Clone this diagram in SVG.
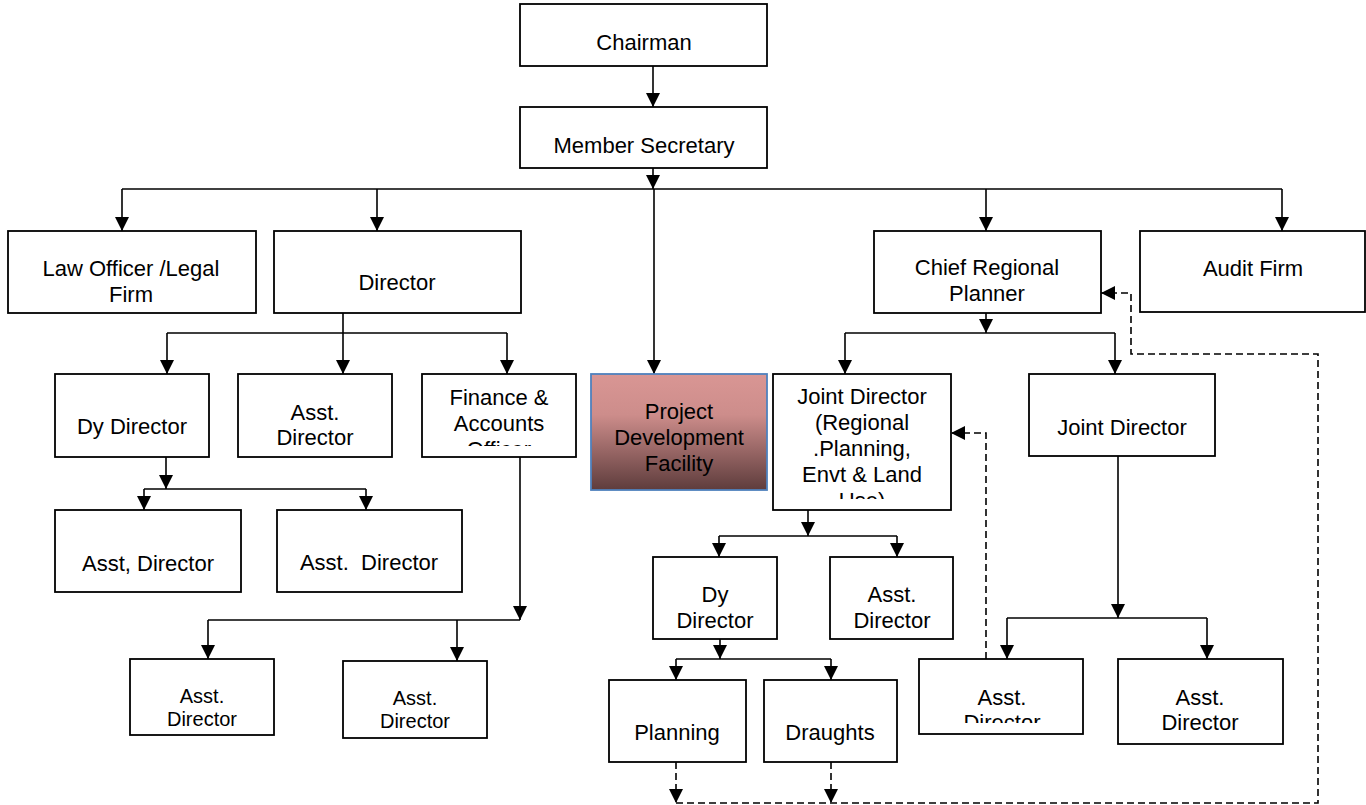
<svg xmlns="http://www.w3.org/2000/svg" width="1366" height="805" viewBox="0 0 1366 805">
<style>
.box{fill:#fff;stroke:#000;stroke-width:1.8}
.ln{fill:none;stroke:#000;stroke-width:1.6}
.dash{fill:none;stroke:#000;stroke-width:1.6;stroke-dasharray:7,4}
text{font-family:"Liberation Sans",Arial,sans-serif;font-size:22px;fill:#000;text-anchor:middle}
.sm{font-size:20px}
</style>
<defs>
<marker id="ah" markerUnits="userSpaceOnUse" markerWidth="14" markerHeight="14" refX="14" refY="7" orient="auto">
<path d="M0,0 L14,7 L0,14 z" fill="#000"/>
</marker>
<linearGradient id="pdfg" x1="0" y1="0" x2="0" y2="1">
<stop offset="0" stop-color="#d99694"/>
<stop offset="0.35" stop-color="#cd8d8b"/>
<stop offset="1" stop-color="#5e3c3c"/>
</linearGradient>
<clipPath id="cFin"><rect x="422" y="374" width="154" height="72"/></clipPath>
<clipPath id="cJd1"><rect x="773" y="374" width="178" height="125"/></clipPath>
<clipPath id="cR1"><rect x="919" y="659" width="164" height="64"/></clipPath>
</defs>

<g id="connectors">
<path class="ln" d="M653,66 V107" marker-end="url(#ah)"/>
<path class="ln" d="M653,168 V189" marker-end="url(#ah)"/>
<path class="ln" d="M122,189 H1282"/>
<path class="ln" d="M122,189 V231" marker-end="url(#ah)"/>
<path class="ln" d="M377,189 V231" marker-end="url(#ah)"/>
<path class="ln" d="M654,189 V374" marker-end="url(#ah)"/>
<path class="ln" d="M986,189 V231" marker-end="url(#ah)"/>
<path class="ln" d="M1282,189 V231" marker-end="url(#ah)"/>

<path class="ln" d="M343,313 V333 M167,333 H507"/>
<path class="ln" d="M167,333 V374" marker-end="url(#ah)"/>
<path class="ln" d="M343,333 V374" marker-end="url(#ah)"/>
<path class="ln" d="M507,333 V374" marker-end="url(#ah)"/>

<path class="ln" d="M166,457 V489" marker-end="url(#ah)"/>
<path class="ln" d="M144,489 H366"/>
<path class="ln" d="M144,489 V510" marker-end="url(#ah)"/>
<path class="ln" d="M366,489 V510" marker-end="url(#ah)"/>

<path class="ln" d="M520,457 V620" marker-end="url(#ah)"/>
<path class="ln" d="M208,620 H520"/>
<path class="ln" d="M208,620 V659" marker-end="url(#ah)"/>
<path class="ln" d="M457,620 V661" marker-end="url(#ah)"/>

<path class="ln" d="M986,313 V333" marker-end="url(#ah)"/>
<path class="ln" d="M845,333 H1115"/>
<path class="ln" d="M845,333 V374" marker-end="url(#ah)"/>
<path class="ln" d="M1115,333 V374" marker-end="url(#ah)"/>

<path class="ln" d="M808,510 V536" marker-end="url(#ah)"/>
<path class="ln" d="M719,536 H897"/>
<path class="ln" d="M719,536 V557" marker-end="url(#ah)"/>
<path class="ln" d="M897,536 V557" marker-end="url(#ah)"/>

<path class="ln" d="M720,639 V659" marker-end="url(#ah)"/>
<path class="ln" d="M676,659 H831"/>
<path class="ln" d="M676,659 V680" marker-end="url(#ah)"/>
<path class="ln" d="M831,659 V680" marker-end="url(#ah)"/>

<path class="ln" d="M1118,456 V618" marker-end="url(#ah)"/>
<path class="ln" d="M1007,618 H1207"/>
<path class="ln" d="M1007,618 V659" marker-end="url(#ah)"/>
<path class="ln" d="M1207,618 V659" marker-end="url(#ah)"/>

<path class="dash" d="M676,762 V803" marker-end="url(#ah)"/>
<path class="dash" d="M831,762 V803" marker-end="url(#ah)"/>
<path class="dash" d="M676,803 H1318 V354 H1131 V293 H1101" marker-end="url(#ah)"/>
<path class="dash" d="M986,659 V433 H951" marker-end="url(#ah)"/>
</g>

<g id="chairman"><rect class="box" x="520" y="4" width="247" height="62"/><text x="644" y="50">Chairman</text></g>
<g id="member-secretary"><rect class="box" x="520" y="107" width="247" height="61"/><text x="644" y="153">Member Secretary</text></g>
<g id="law-officer"><rect class="box" x="8" y="231" width="248" height="82"/><text x="131" y="276">Law Officer /Legal</text><text x="131" y="302">Firm</text></g>
<g id="director"><rect class="box" x="274" y="231" width="247" height="82"/><text x="397" y="290">Director</text></g>
<g id="chief-regional-planner"><rect class="box" x="874" y="231" width="227" height="82"/><text x="987" y="275">Chief Regional</text><text x="987" y="301">Planner</text></g>
<g id="audit-firm"><rect class="box" x="1140" y="231" width="225" height="81"/><text x="1253" y="276">Audit Firm</text></g>

<g id="dy-director"><rect class="box" x="55" y="374" width="154" height="83"/><text x="132" y="434">Dy Director</text></g>
<g id="asst-director-1"><rect class="box" x="238" y="374" width="154" height="83"/><text x="315" y="420">Asst.</text><text x="315" y="445">Director</text></g>
<g id="finance-accounts-officer"><rect class="box" x="422" y="374" width="154" height="83"/><g clip-path="url(#cFin)"><text x="499" y="405">Finance &amp;</text><text x="499" y="431">Accounts</text><text x="499" y="457">Officer</text></g></g>
<g id="project-development-facility"><rect x="591" y="374" width="176" height="116" fill="url(#pdfg)" stroke="#4f81bd" stroke-width="1.8"/><text x="679" y="419">Project</text><text x="679" y="445">Development</text><text x="679" y="471">Facility</text></g>
<g id="joint-director-1"><rect class="box" x="773" y="374" width="178" height="136"/><g clip-path="url(#cJd1)"><text x="862" y="404">Joint Director</text><text x="862" y="430">(Regional</text><text x="862" y="456">.Planning,</text><text x="862" y="482">Envt &amp; Land</text><text x="862" y="508">Use)</text></g></g>
<g id="joint-director-2"><rect class="box" x="1029" y="374" width="186" height="82"/><text x="1122" y="435">Joint Director</text></g>

<g id="asst-director-2"><rect class="box" x="55" y="510" width="186" height="82"/><text x="148" y="571">Asst, Director</text></g>
<g id="asst-director-3"><rect class="box" x="277" y="510" width="185" height="82"/><text x="369" y="570" xml:space="preserve">Asst.  Director</text></g>
<g id="asst-director-4"><rect class="box" x="130" y="659" width="144" height="76"/><text class="sm" x="202" y="703">Asst.</text><text class="sm" x="202" y="726">Director</text></g>
<g id="asst-director-5"><rect class="box" x="343" y="661" width="144" height="77"/><text class="sm" x="415" y="705">Asst.</text><text class="sm" x="415" y="728">Director</text></g>

<g id="dy-director-2"><rect class="box" x="653" y="557" width="124" height="82"/><text x="715" y="602">Dy</text><text x="715" y="628">Director</text></g>
<g id="asst-director-6"><rect class="box" x="830" y="557" width="123" height="82"/><text x="892" y="602">Asst.</text><text x="892" y="628">Director</text></g>
<g id="planning"><rect class="box" x="609" y="680" width="137" height="82"/><text x="677" y="740">Planning</text></g>
<g id="draughts"><rect class="box" x="764" y="680" width="133" height="82"/><text x="830" y="740">Draughts</text></g>
<g id="asst-director-7"><rect class="box" x="919" y="659" width="164" height="75"/><g clip-path="url(#cR1)"><text x="1002" y="705">Asst.</text><text x="1002" y="730">Director</text></g></g>
<g id="asst-director-8"><rect class="box" x="1118" y="659" width="165" height="85"/><text x="1200" y="705">Asst.</text><text x="1200" y="730">Director</text></g>
</svg>
